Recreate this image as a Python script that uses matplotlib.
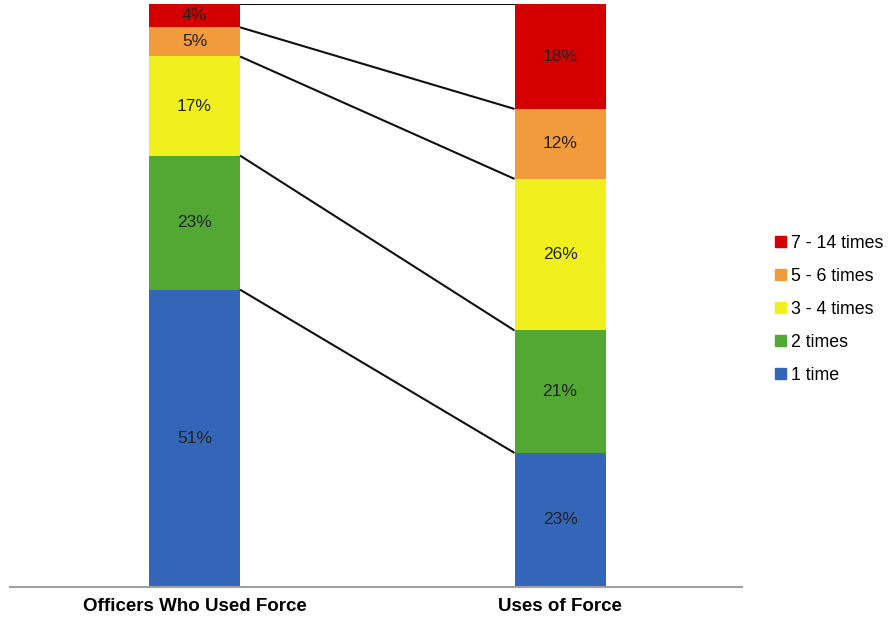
import matplotlib.pyplot as plt
from matplotlib.patches import Patch

plt.rcParams['font.family'] = ['Liberation Sans', 'DejaVu Sans']

groups = ["Officers Who Used Force", "Uses of Force"]
categories = ["1 time", "2 times", "3 - 4 times", "5 - 6 times", "7 - 14 times"]
officers = [51, 23, 17, 5, 4]
uses = [23, 21, 26, 12, 18]
colors = ["#3366B8", "#52A833", "#F0F01E", "#F29B3C", "#D40000"]

fig = plt.figure(figsize=(8.93, 6.25), dpi=100)
ax = fig.add_axes([10 / 893, 1 - 587 / 625, 732 / 893, 583 / 625])

width = 0.249
series = [officers, uses]
bottoms = []
for i, vals in enumerate(series):
    b = 0
    tops = [0]
    for v, c in zip(vals, colors):
        ax.bar(i, v, width, bottom=b, color=c, linewidth=0)
        ax.text(i, b + v / 2, f"{v}%", ha='center', va='center', fontsize=12.5, color='#222222')
        b += v
        tops.append(b)
    bottoms.append(tops)

# connector lines between the bars
for yl, yr in zip(bottoms[0][1:], bottoms[1][1:]):
    ax.plot([width / 2, 1 - width / 2], [yl, yr], color='#111111', lw=1.5, solid_capstyle='butt')

ax.set_xlim(-0.505, 1.498)
ax.set_ylim(0, 100)
for s in ['top', 'right', 'left']:
    ax.spines[s].set_visible(False)
ax.spines['bottom'].set_color('#A0A0A0')
ax.spines['bottom'].set_linewidth(1.5)
ax.set_yticks([])
ax.set_xticks([0, 1])
ax.set_xticklabels(groups, fontsize=13.5, fontweight='bold')
ax.tick_params(axis='x', length=0, pad=8)

handles = [Patch(color=c, label=l) for c, l in zip(colors, categories)][::-1]
fig.legend(handles=handles, loc='center left', bbox_to_anchor=(0.85, 0.505),
           frameon=False, fontsize=12.8, handlelength=0.6, handleheight=0.6,
           handletextpad=0.3, labelspacing=0.9)

fig.savefig("out.png", dpi=100)
